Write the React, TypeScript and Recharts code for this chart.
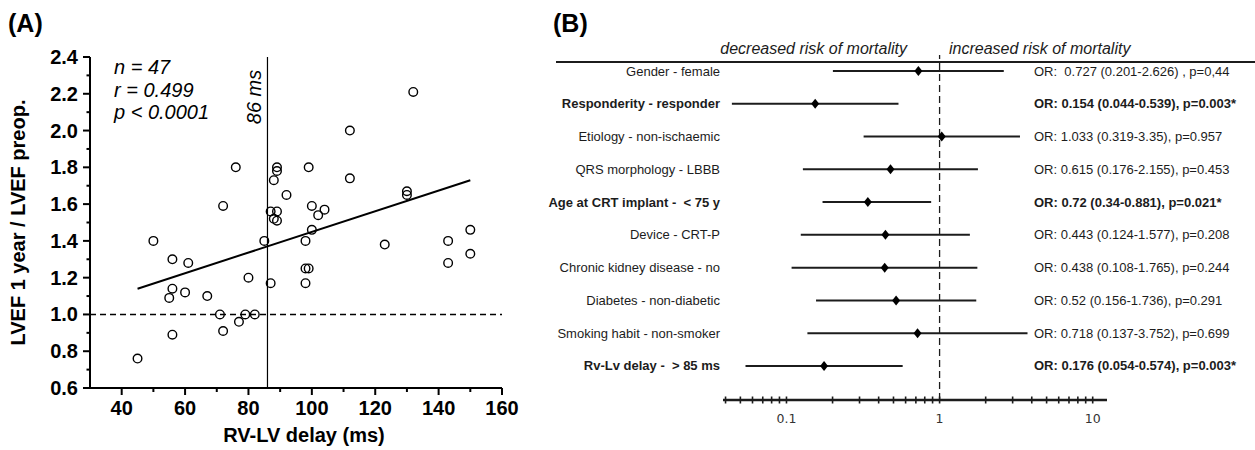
import { ScatterChart, Scatter, XAxis, YAxis, ReferenceLine } from 'recharts'

// ---- (A) LVEF ratio vs RV-LV delay ----
const delayMs = [
  45, 50, 56, 56, 55, 56, 61, 60, 67, 72, 71, 72, 76, 77, 79, 82, 80, 85,
  87, 87, 89, 88, 89, 88, 89, 89, 92, 99, 100, 100, 98, 98, 99, 98, 102, 104,
  112, 112, 123, 130, 130, 132, 143, 143, 150, 150,
]
const lvefRatio = [
  0.76, 1.4, 1.3, 1.14, 1.09, 0.89, 1.28, 1.12, 1.1, 1.59, 1.0, 0.91, 1.8, 0.96, 1.0, 1.0, 1.2, 1.4,
  1.17, 1.56, 1.56, 1.52, 1.51, 1.73, 1.8, 1.78, 1.65, 1.8, 1.59, 1.46, 1.4, 1.25, 1.25, 1.17, 1.54, 1.57,
  2.0, 1.74, 1.38, 1.67, 1.65, 2.21, 1.4, 1.28, 1.46, 1.33,
]
const fitLine = [
  { x: 45, y: 1.14 },
  { x: 150, y: 1.73 },
]
const cutoffMs = 86
const delayTicks = [40, 50, 60, 70, 80, 90, 100, 110, 120, 130, 140, 150, 160]
const ratioTicks = [0.6, 0.7, 0.8, 0.9, 1.0, 1.1, 1.2, 1.3, 1.4, 1.5, 1.6, 1.7, 1.8, 1.9, 2.0, 2.1, 2.2, 2.3, 2.4]
const statLines = ['n = 47', 'r = 0.499', 'p < 0.0001']

// ---- (B) odds ratios ----
const factors = [
  'Gender - female',
  'Responderity - responder',
  'Etiology - non-ischaemic',
  'QRS morphology - LBBB',
  'Age at CRT implant -  < 75 y',
  'Device - CRT-P',
  'Chronic kidney disease - no',
  'Diabetes - non-diabetic',
  'Smoking habit - non-smoker',
  'Rv-Lv delay -  > 85 ms',
]
// plotted positions as drawn in the figure
const oddsRatio = [0.727, 0.154, 1.033, 0.478, 0.34, 0.443, 0.438, 0.52, 0.718, 0.176]
const ciLow = [0.201, 0.044, 0.319, 0.128, 0.172, 0.124, 0.108, 0.156, 0.137, 0.054]
const ciHigh = [2.626, 0.539, 3.35, 1.78, 0.881, 1.577, 1.765, 1.736, 3.752, 0.574]
const orTexts = [
  'OR:  0.727 (0.201-2.626) , p=0,44',
  'OR: 0.154 (0.044-0.539), p=0.003*',
  'OR: 1.033 (0.319-3.35), p=0.957',
  'OR: 0.615 (0.176-2.155), p=0.453',
  'OR: 0.72 (0.34-0.881), p=0.021*',
  'OR: 0.443 (0.124-1.577), p=0.208',
  'OR: 0.438 (0.108-1.765), p=0.244',
  'OR: 0.52 (0.156-1.736), p=0.291',
  'OR: 0.718 (0.137-3.752), p=0.699',
  'OR: 0.176 (0.054-0.574), p=0.003*',
]
const significant = [false, true, false, false, true, false, false, false, false, true]
const orTicks = [
  0.04, 0.05, 0.06, 0.07, 0.08, 0.09, 0.1, 0.2, 0.3, 0.4, 0.5, 0.6, 0.7, 0.8, 0.9,
  1, 2, 3, 4, 5, 6, 7, 8, 9, 10,
]
const orTickLabels = [0.1, 1, 10]
const rowTicks = factors.map((_, i) => i)

const scatterData = delayMs.map((d, i) => ({ delay: d, ratio: lvefRatio[i] }))
const forestData = oddsRatio.map((v, i) => ({ or: v, row: i }))

const SANS = '"Liberation Sans", Arial, Helvetica, sans-serif'
const INK = '#1c1c1c'

function RatioTick({ x, y, payload }: any) {
  const v = payload.value as number
  const major = Math.round(v * 10) % 2 === 0
  const ax = x + 8
  return (
    <g>
      <line x1={ax} x2={ax - (major ? 7 : 3.5)} y1={y} y2={y} stroke="#000" strokeWidth={2} />
      {major && (
        <text x={ax - 12} y={y + 7} textAnchor="end" fontFamily={SANS} fontWeight="bold" fontSize={20} fill="#000">
          {v.toFixed(1)}
        </text>
      )}
    </g>
  )
}

function DelayTick({ x, y, payload }: any) {
  const v = payload.value as number
  const major = v % 20 === 0
  const ay = y - 8
  return (
    <g>
      <line x1={x} x2={x} y1={ay} y2={ay + (major ? 7 : 4)} stroke="#000" strokeWidth={2} />
      {major && (
        <text x={x} y={ay + 27} textAnchor="middle" fontFamily={SANS} fontWeight="bold" fontSize={20} fill="#000">
          {v}
        </text>
      )}
    </g>
  )
}

function CutoffLabel(props: any) {
  const vb = props.viewBox
  const x = vb.x - 6
  const y = vb.y + 40
  return (
    <text
      x={x}
      y={y}
      transform={`rotate(-90 ${x} ${y})`}
      textAnchor="middle"
      fontFamily={SANS}
      fontStyle="italic"
      fontSize={20}
      fill="#000"
    >
      {cutoffMs} ms
    </text>
  )
}

function OrTick({ x, y, payload }: any) {
  const v = payload.value as number
  const ay = y - 8
  const labelled = orTickLabels.includes(v)
  return (
    <g>
      <line x1={x} x2={x} y1={ay - 3.5} y2={ay + 3.5} stroke={INK} strokeWidth={1.6} />
      {labelled && (
        <text x={x} y={ay + 23} textAnchor="middle" fontFamily='"DejaVu Sans", sans-serif' fontSize={12.5} fill="#333">
          {v}
        </text>
      )}
    </g>
  )
}

function FactorTick({ x, y, payload }: any) {
  const i = payload.value as number
  const bold = significant[i]
  return (
    <g>
      <text
        x={x + 5}
        y={y + 4.5}
        textAnchor="end"
        fontFamily={SANS}
        fontSize={13}
        fontWeight={bold ? 'bold' : 'normal'}
        fill={INK}
        style={{ whiteSpace: 'pre' }}
      >
        {factors[i]}
      </text>
      <text
        x={x + 319}
        y={y + 4.5}
        textAnchor="start"
        fontFamily={SANS}
        fontSize={13}
        fontWeight={bold ? 'bold' : 'normal'}
        fill={INK}
        style={{ whiteSpace: 'pre' }}
      >
        {orTexts[i]}
      </text>
    </g>
  )
}

function Diamond({ cx, cy }: any) {
  return <polygon points={`${cx},${cy - 5} ${cx + 4},${cy} ${cx},${cy + 5} ${cx - 4},${cy}`} fill="#000" />
}

function OpenCircle({ cx, cy }: any) {
  return <circle cx={cx} cy={cy} r={4.3} fill="none" stroke="#000" strokeWidth={1.4} />
}

export default function App() {
  return (
    <div
      style={{
        position: 'absolute',
        left: 0,
        top: 0,
        width: 1255,
        height: 450,
        background: '#fff',
        overflow: 'hidden',
        fontFamily: SANS,
      }}
    >
      <div style={{ position: 'absolute', left: 0, top: 0 }}>
        <ScatterChart width={520} height={450} margin={{ top: 57, right: 18, bottom: 0, left: 10 }}>
          <XAxis
            type="number"
            dataKey="delay"
            domain={[30, 160]}
            ticks={delayTicks}
            interval={0}
            allowDataOverflow
            height={62}
            tickSize={6}
            tickMargin={2}
            tickLine={false}
            tick={<DelayTick />}
            axisLine={{ stroke: '#000', strokeWidth: 2 }}
            label={{
              value: 'RV-LV delay (ms)',
              position: 'insideBottom',
              offset: 8,
              dx: 8,
              style: { fontFamily: SANS, fontWeight: 'bold', fontSize: 20, fill: '#000' },
            }}
          />
          <YAxis
            type="number"
            dataKey="ratio"
            domain={[0.6, 2.4]}
            ticks={ratioTicks}
            interval={0}
            allowDataOverflow
            width={80}
            tickSize={6}
            tickMargin={2}
            tickLine={false}
            tick={<RatioTick />}
            axisLine={{ stroke: '#000', strokeWidth: 2 }}
            label={{
              value: 'LVEF 1 year / LVEF preop.',
              angle: -90,
              position: 'insideLeft',
              offset: 8,
              style: { textAnchor: 'middle', fontFamily: SANS, fontWeight: 'bold', fontSize: 20, fill: '#000' },
            }}
          />
          <ReferenceLine y={1} stroke="#000" strokeWidth={1.5} strokeDasharray="6 4" />
          <ReferenceLine x={cutoffMs} stroke="#000" strokeWidth={1.2} label={CutoffLabel} />
          <ReferenceLine segment={fitLine} stroke="#000" strokeWidth={2} />
          <Scatter data={scatterData} shape={<OpenCircle />} isAnimationActive={false} />
        </ScatterChart>
      </div>

      <div style={{ position: 'absolute', left: 520, top: 0 }}>
        <ScatterChart width={735} height={450} margin={{ top: 55, right: 148, bottom: 0, left: 0 }}>
          <XAxis
            type="number"
            dataKey="or"
            scale="log"
            domain={[0.0385, 12.4]}
            ticks={orTicks}
            interval={0}
            allowDataOverflow
            height={50}
            tickSize={6}
            tickMargin={2}
            tickLine={false}
            tick={<OrTick />}
            axisLine={{ stroke: INK, strokeWidth: 2.5 }}
          />
          <YAxis
            type="number"
            dataKey="row"
            domain={[-0.49, 10.04]}
            reversed
            ticks={rowTicks}
            interval={0}
            allowDataOverflow
            width={203}
            tickSize={6}
            tickMargin={2}
            tickLine={false}
            axisLine={false}
            tick={<FactorTick />}
          />
          <ReferenceLine x={1} stroke={INK} strokeWidth={1.3} strokeDasharray="7 4" />
          {factors.map((f, i) => (
            <ReferenceLine
              key={f}
              segment={[
                { x: ciLow[i], y: i },
                { x: ciHigh[i], y: i },
              ]}
              stroke={INK}
              strokeWidth={2}
            />
          ))}
          <Scatter data={forestData} shape={<Diamond />} isAnimationActive={false} />
        </ScatterChart>
      </div>

      <svg
        width={1255}
        height={450}
        style={{ position: 'absolute', left: 0, top: 0, pointerEvents: 'none' }}
        fontFamily={SANS}
      >
        <text x={8} y={32} fontSize={25} fontWeight="bold" fill="#000">(A)</text>
        <text x={553} y={32} fontSize={25} fontWeight="bold" fill="#000">(B)</text>
        {statLines.map((s, i) => (
          <text key={s} x={114} y={74 + i * 22.5} fontSize={20} fontStyle="italic" fill="#000">
            {s}
          </text>
        ))}
        <line x1={556} x2={1255} y1={62} y2={62} stroke={INK} strokeWidth={2} />
        <text x={907} y={54} textAnchor="end" fontSize={16} fontStyle="italic" fill={INK}>
          decreased risk of mortality
        </text>
        <text x={949} y={54} textAnchor="start" fontSize={16} fontStyle="italic" fill={INK}>
          increased risk of mortality
        </text>
      </svg>
    </div>
  )
}
